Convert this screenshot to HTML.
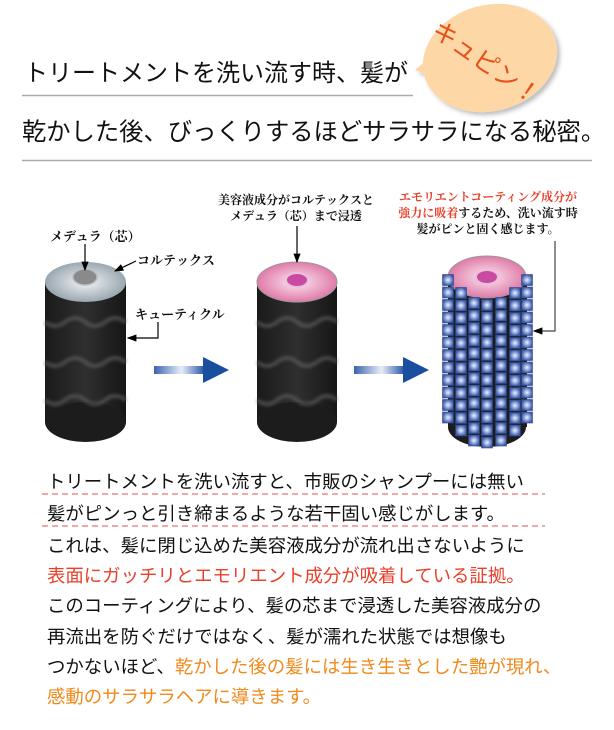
<!DOCTYPE html>
<html><head><meta charset="utf-8">
<style>
html,body{margin:0;padding:0;background:#fff;}
body{width:614px;height:730px;position:relative;overflow:hidden;font-family:"Liberation Sans","Noto Sans CJK JP",sans-serif;}
.t{position:absolute;white-space:nowrap;color:#111;}
.b{position:absolute;left:47px;font-size:18.4px;white-space:nowrap;color:#111;line-height:20px;}
.r{color:#e8402a}.o{color:#f08a1c}
</style></head><body>
<svg width="614" height="730" style="position:absolute;left:0;top:0" xmlns="http://www.w3.org/2000/svg">
<defs>
<linearGradient id="body" x1="0" x2="1" y1="0" y2="0"><stop offset="0" stop-color="#1a1a1a"/><stop offset="0.5" stop-color="#2f2f2f"/><stop offset="1" stop-color="#161616"/></linearGradient>
<radialGradient id="gray"><stop offset="0" stop-color="#f2f5f8"/><stop offset="1" stop-color="#9aa7b0"/></radialGradient>
<radialGradient id="pink"><stop offset="0" stop-color="#fbe8f2"/><stop offset="1" stop-color="#e07aa8"/></radialGradient>
<radialGradient id="sq"><stop offset="0" stop-color="#eef4ff"/><stop offset="0.55" stop-color="#8aa0d8"/><stop offset="1" stop-color="#3f5ba6"/></radialGradient>
<linearGradient id="arr" x1="0" x2="1"><stop offset="0" stop-color="#3a64b0"/><stop offset="0.55" stop-color="#e8eef8"/><stop offset="1" stop-color="#2a58a8"/></linearGradient>
<filter id="sh"><feDropShadow dx="3" dy="3" stdDeviation="2" flood-color="#000" flood-opacity="0.25"/></filter>
<filter id="bl"><feGaussianBlur stdDeviation="1.5"/></filter>
<marker id="ah" markerWidth="8" markerHeight="8" refX="7" refY="4" orient="auto"><path d="M0,1 L8,4 L0,7 Z" fill="#000"/></marker>
</defs>
<line x1="22" y1="95.5" x2="413" y2="95.5" stroke="#aaa" stroke-width="1.5"/>
<line x1="22" y1="160.5" x2="592" y2="160.5" stroke="#aaa" stroke-width="1.5"/>
<g filter="url(#sh)">
<path d="M415,70 L432,56 L442,80 Z" fill="#fdd7a6"/>
<ellipse cx="490" cy="58" rx="68" ry="53" fill="#fdd7a6" transform="rotate(-15 490 58)"/>
</g>
<text x="0" y="0" font-size="25" fill="#e8501a" font-family="Liberation Sans, Noto Sans CJK JP, sans-serif" transform="translate(430,34) rotate(35)">キュピン！</text>

<g>
<rect x="45" y="282" width="81" height="140" fill="url(#body)"/>
<ellipse cx="85.5" cy="422" rx="40.5" ry="20" fill="#1c1c1c"/>
<g fill="none" stroke="#666" stroke-width="4" opacity="0.6" filter="url(#bl)">
<path d="M45,322 q10,8 20,0 t20,0 t20,0 t21,0"/>
<path d="M45,362 q10,8 20,0 t20,0 t20,0 t21,0"/>
<path d="M45,400 q10,8 20,0 t20,0 t20,0 t21,0"/>
</g>
<ellipse cx="85.5" cy="282" rx="40.5" ry="20" fill="url(#gray)"/>
<ellipse cx="85" cy="277" rx="12" ry="8" fill="#8a8a8a" stroke="#bbb" stroke-width="1.5"/>
</g>
<g>
<rect x="257" y="282" width="80" height="140" fill="url(#body)"/>
<ellipse cx="297" cy="422" rx="40" ry="20" fill="#1c1c1c"/>
<g fill="none" stroke="#666" stroke-width="4" opacity="0.6" filter="url(#bl)">
<path d="M257,322 q10,8 20,0 t20,0 t20,0 t20,0"/>
<path d="M257,362 q10,8 20,0 t20,0 t20,0 t20,0"/>
<path d="M257,400 q10,8 20,0 t20,0 t20,0 t20,0"/>
</g>
<ellipse cx="297" cy="282" rx="40" ry="20" fill="url(#pink)" stroke="#999" stroke-width="1"/>
<ellipse cx="297" cy="280" rx="11" ry="7" fill="#c94aa0" stroke="#e8c0dc" stroke-width="2"/>
</g>
<g>
<rect x="448" y="277" width="79" height="150" fill="#1c1c1c"/>
<ellipse cx="487" cy="427" rx="39" ry="20" fill="#1c1c1c"/>
<ellipse cx="487" cy="277" rx="39" ry="21" fill="url(#pink)" stroke="#999" stroke-width="1"/>
<ellipse cx="487" cy="277" rx="11" ry="7" fill="#c94aa0" stroke="#e8c0dc" stroke-width="2"/>
<g id="sqs"></g>
</g>

<rect x="154" y="366" width="50" height="8" fill="url(#arr)"/>
<path d="M203,357 L229,370 L203,383 Z" fill="#1a4fa0"/>
<rect x="354" y="366" width="50" height="8" fill="url(#arr)"/>
<path d="M403,357 L429,370 L403,383 Z" fill="#1a4fa0"/>

<g stroke="#000" stroke-width="1.2" fill="none">
<line x1="85" y1="244" x2="85" y2="270" marker-end="url(#ah)"/>
<line x1="136" y1="261" x2="115" y2="271" marker-end="url(#ah)"/>
<polyline points="158,322 158,338 128,338" marker-end="url(#ah)"/>
<line x1="297" y1="226" x2="297" y2="262" marker-end="url(#ah)"/>
<polyline points="555,241 555,331 534,331" marker-end="url(#ah)" stroke="#444"/>
</g>
<line x1="42" y1="494" x2="545" y2="494" stroke="#e05050" stroke-width="1" stroke-dasharray="6,4"/>
<line x1="42" y1="526" x2="545" y2="526" stroke="#e05050" stroke-width="1" stroke-dasharray="6,4"/>
</svg>

<div class="t" style="left:24px;top:53px;font-size:24px;">トリートメントを洗い流す時、髪が</div>
<div class="t" style="left:22px;top:112px;font-size:24.3px;">乾かした後、びっくりするほどサラサラになる秘密。</div>

<div class="t" style="left:50px;top:226px;font-size:13px;font-weight:bold;font-family:'Liberation Serif','Noto Serif CJK SC',serif;">メデュラ（芯）</div>
<div class="t" style="left:137px;top:250px;font-size:13px;font-weight:bold;font-family:'Liberation Serif','Noto Serif CJK SC',serif;">コルテックス</div>
<div class="t" style="left:135px;top:304px;font-size:13px;font-weight:bold;font-family:'Liberation Serif','Noto Serif CJK SC',serif;">キューティクル</div>
<div class="t" style="left:216px;top:192px;width:160px;text-align:center;font-size:12px;line-height:16px;font-weight:bold;font-family:'Liberation Serif','Noto Serif CJK SC',serif;">美容液成分がコルテックスと<br>メデュラ（芯）まで浸透</div>
<div class="t" style="left:393px;top:189px;width:190px;text-align:center;font-size:12px;line-height:16px;font-weight:bold;font-family:'Liberation Serif','Noto Serif CJK SC',serif;"><span class="r">エモリエントコーティング成分が</span><br><span class="r">強力に吸着</span>するため、洗い流す時<br>髪がピンと固く感じます。</div>

<div class="b" style="top:472px;">トリートメントを洗い流すと、市販のシャンプーには無い</div>
<div class="b" style="top:504px;">髪がピンっと引き締まるような若干固い感じがします。</div>
<div class="b" style="top:536px;">これは、髪に閉じ込めた美容液成分が流れ出さないように</div>
<div class="b r" style="top:566px;">表面にガッチリとエモリエント成分が吸着している証拠。</div>
<div class="b" style="top:596px;">このコーティングにより、髪の芯まで浸透した美容液成分の</div>
<div class="b" style="top:627px;">再流出を防ぐだけではなく、髪が濡れた状態では想像も</div>
<div class="b" style="top:657px;">つかないほど、<span class="o">乾かした後の髪には生き生きとした艶が現れ、</span></div>
<div class="b o" style="top:687px;">感動のサラサラヘアに導きます。</div>

<script>
(function(){
var g=document.getElementById('sqs'),ns='http://www.w3.org/2000/svg';
var cols=[[448,280,425],[461,293,438],[474,303,446],[487,305,450],[501,303,446],[515,293,438],[527,280,425]];
cols.forEach(function(c){
 for(var y=c[1];y<=c[2];y+=12.5){
  var r=document.createElementNS(ns,'rect');
  r.setAttribute('x',c[0]-5.5);r.setAttribute('y',y-5.5);
  r.setAttribute('width',11);r.setAttribute('height',11);
  r.setAttribute('fill','url(#sq)');r.setAttribute('stroke','#2c4488');r.setAttribute('stroke-width','0.6');
  g.appendChild(r);
 }
});
})();
</script>
</body></html>
